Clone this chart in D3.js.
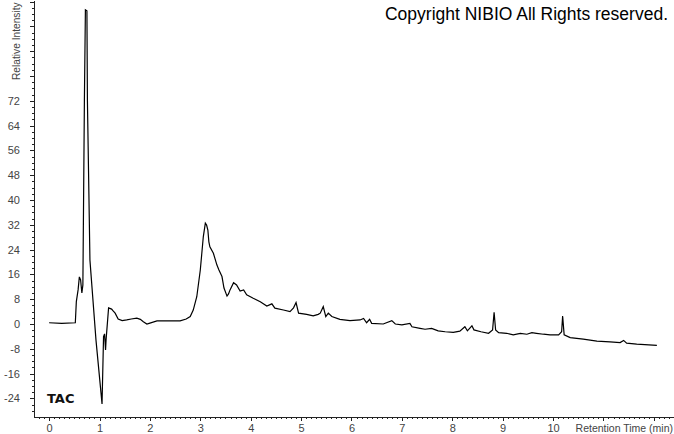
<!DOCTYPE html>
<html>
<head>
<meta charset="utf-8">
<script src="https://cdn.jsdelivr.net/npm/d3@7"></script>
<style>
  body { margin: 0; background: #fff; }
  svg { display: block; font-family: "Liberation Sans", Arial, sans-serif; }
  .axis path, .axis line { stroke: #222; shape-rendering: crispEdges; }
  .axis text { fill: #444; font-size: 11px; }
</style>
</head>
<body>
<div id="chart"></div>
<script>
// chromatogram trace (retention time in min, relative intensity)
const times = [0.00, 0.25, 0.52, 0.54, 0.575, 0.60, 0.625, 0.65, 0.67, 0.70, 0.72, 0.75, 0.76, 0.81, 0.93,
  1.03, 1.05, 1.08, 1.10, 1.12, 1.13, 1.18, 1.24, 1.27, 1.31, 1.37, 1.45, 1.54, 1.63, 1.74, 1.81, 1.87, 1.94,
  2.00, 2.14, 2.60, 2.72, 2.80, 2.86, 2.93, 3.00, 3.06, 3.10, 3.125, 3.15, 3.17, 3.19, 3.26, 3.33, 3.37, 3.43,
  3.47, 3.53, 3.56, 3.59, 3.66, 3.72, 3.79, 3.86, 3.92, 4.05, 4.19, 4.32, 4.42, 4.48, 4.65, 4.78, 4.85, 4.90,
  4.95, 5.11, 5.24, 5.34, 5.38, 5.44, 5.49, 5.54, 5.61, 5.77, 5.97, 6.17, 6.24, 6.30, 6.36, 6.40, 6.63, 6.80,
  6.87, 7.00, 7.16, 7.20, 7.36, 7.46, 7.59, 7.72, 7.86, 8.02, 8.15, 8.25, 8.30, 8.39, 8.43, 8.57, 8.72, 8.80,
  8.83, 8.86, 8.92, 9.08, 9.21, 9.35, 9.48, 9.58, 9.67, 9.81, 9.94, 10.11, 10.17, 10.19, 10.22, 10.34, 10.60,
  10.87, 11.13, 11.33, 11.40, 11.46, 11.66, 12.06];
const intensity = [0.4, 0.2, 0.4, 7.2, 11, 15.2, 14.2, 10, 12.6, 72, 101.3, 101, 72, 20.6, -5.2,
  -22.3, -25.8, -4.1, -3.2, -8.4, -5.2, 5.2, 4.8, 4.2, 3.5, 1.6, 1.1, 1.3, 1.6, 1.9, 1.5, 0.7, 0,
  0.3, 1.0, 1.0, 1.6, 2.4, 4.5, 8.8, 17.4, 28.2, 32.5, 31.9, 30.3, 26.5, 24.9, 22.8, 19, 17.4, 15.3,
  11.6, 9, 9.7, 11, 13.3, 12.6, 10.6, 11, 9.4, 8.3, 7.2, 5.8, 6.5, 5.1, 4.5, 4, 5.2, 6.9,
  3.5, 3.1, 2.6, 3.1, 3.5, 5.6, 2.4, 3.5, 2.4, 1.5, 1.1, 1.3, 1.8, 0.4, 1.5, 0.2, 0, 1.1,
  0, -0.3, 0.2, -0.9, -1.4, -1.7, -1.4, -2.2, -2.5, -2.7, -2.3, -0.9, -2.2, -0.6, -1.9, -2.5, -3, -1.9,
  3.8, -1.9, -2.8, -3, -3.5, -3, -3.3, -2.8, -3, -3.3, -3.5, -3.5, -2.5, 2.6, -3.5, -4.4, -4.9,
  -5.5, -5.8, -6, -5.3, -6.2, -6.5, -6.9];

// axis ticks
const xMajor = d3.range(0, 13);
const xLabelled = d3.range(0, 11);
const xMinor = d3.range(-2, 124).map(i => i / 10);
const yMajor = d3.range(-24, 105, 8);
const yMinor = d3.range(-28, 105, 2);
const yLabelMax = 72;

const width = 674, height = 434;

const svg = d3.select('#chart').append('svg')
  .attr('width', width)
  .attr('height', height);

const x = d3.scaleLinear().domain([-0.3, 12.38]).range([34, 673]);
const y = d3.scaleLinear().domain([-30, 104.5]).range([417, 0]);

// minor ticks
svg.append('g')
  .attr('class', 'axis')
  .attr('transform', 'translate(0,' + y.range()[0] + ')')
  .call(d3.axisBottom(x).tickValues(xMinor).tickSize(2).tickSizeOuter(0).tickFormat(''))
  .call(g => g.select('.domain').remove());

svg.append('g')
  .attr('class', 'axis')
  .attr('transform', 'translate(' + x.range()[0] + ',0)')
  .call(d3.axisLeft(y).tickValues(yMinor).tickSize(2).tickSizeOuter(0).tickFormat(''))
  .call(g => g.select('.domain').remove());

// major ticks + labels
svg.append('g')
  .attr('class', 'axis')
  .attr('transform', 'translate(0,' + y.range()[0] + ')')
  .call(d3.axisBottom(x).tickValues(xMajor).tickSize(4).tickSizeOuter(0).tickPadding(3)
    .tickFormat(d => xLabelled.includes(d) ? d : ''));

svg.append('g')
  .attr('class', 'axis')
  .attr('transform', 'translate(' + x.range()[0] + ',0)')
  .call(d3.axisLeft(y).tickValues(yMajor).tickSize(4).tickSizeOuter(0).tickPadding(10)
    .tickFormat(d => d <= yLabelMax ? d : ''));

// trace
const line = d3.line()
  .x((d, i) => x(times[i]))
  .y(d => y(d));

svg.append('path')
  .datum(intensity)
  .attr('fill', 'none')
  .attr('stroke', '#000')
  .attr('stroke-width', 1.2)
  .attr('d', line);

// texts
svg.append('text')
  .attr('x', 673)
  .attr('y', 432)
  .attr('text-anchor', 'end')
  .style('font-size', '10.5px')
  .style('fill', '#444')
  .text('Retention Time (min)');

svg.append('text')
  .attr('transform', 'translate(20,80) rotate(-90)')
  .style('font-size', '10.2px')
  .style('fill', '#444')
  .text('Relative Intensity');

svg.append('text')
  .attr('x', 668)
  .attr('y', 20)
  .attr('text-anchor', 'end')
  .style('font-size', '17.5px')
  .style('fill', '#000')
  .text('Copyright NIBIO All Rights reserved.');

svg.append('text')
  .attr('x', 47)
  .attr('y', 403)
  .style('font-size', '13px')
  .style('font-weight', 'bold')
  .style('font-family', '"DejaVu Sans", sans-serif')
  .style('fill', '#111')
  .text('TAC');
</script>
</body>
</html>
